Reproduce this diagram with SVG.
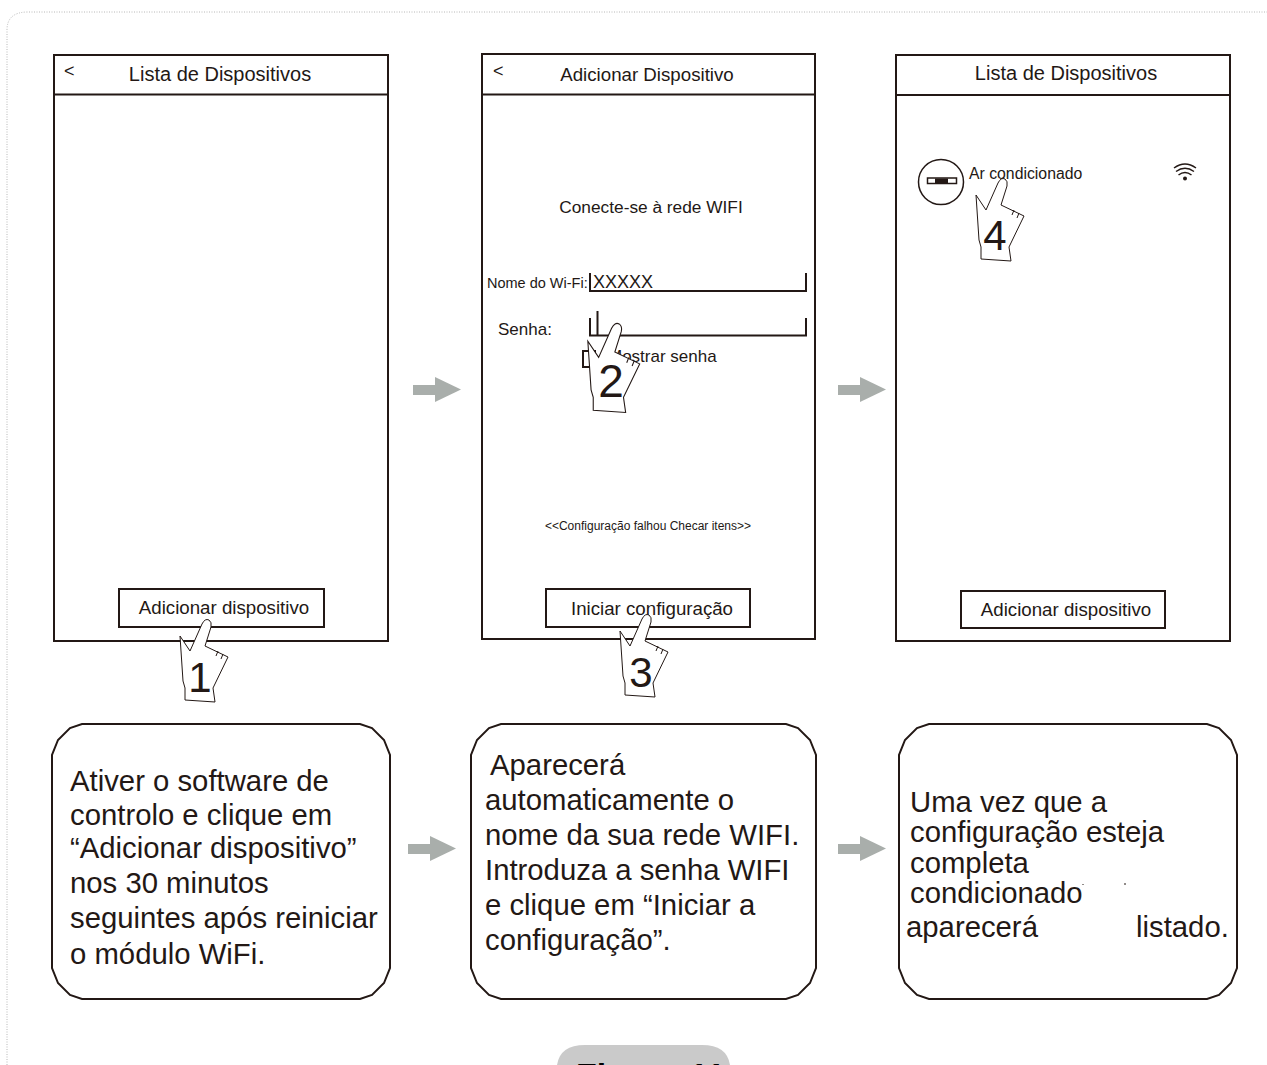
<svg xmlns="http://www.w3.org/2000/svg" width="1267" height="1065" viewBox="0 0 1267 1065">
<style>
text{font-family:"Liberation Sans",Arial,sans-serif;fill:#231815}
.s{fill:#fff;stroke:#231815;stroke-width:2}
.l{fill:none;stroke:#231815;stroke-width:2}
.b{font-size:29.300px}
.f{font-size:18.700px}
.h{fill:#fff;stroke:#231815;stroke-width:1}
.t{fill:none;stroke:#231815;stroke-width:1}
.n{font-size:42px;text-anchor:middle}
.a{fill:#a9aeab}
</style>
<defs>
<g id="hand"><path class="h" d="M-5,3 Q-2,-3 2,-1 Q5,1 4,6 L-2,25 L21,36 L6,67 L8,81 L-22,79 L-22,67 L-24,60 L-27,15 L-17,30 Z"/><path class="t" d="M11,30 L9,35 M16,33 L14,38"/></g>
<g id="arrow"><rect class="a" x="0" y="8" width="24" height="10"/><path class="a" d="M22,0 L48,12.500 L22,25 Z"/></g>
</defs>
<rect width="1267" height="1065" fill="#fff"/>
<path d="M7,1065 V30 Q7,12 28,12 H1267" fill="none" stroke="#b8b8b8" stroke-width="1" stroke-dasharray="1 1.500"/>
<path d="M557,1065 Q560,1045 585,1045 H702 Q727,1045 730,1065 Z" fill="#cacaca"/>
<g id="badge-text"><text x="576" y="1087" font-size="34" font-weight="700" style="fill:#000">Figura 11</text></g>

<g id="screen1">
<rect class="s" x="54" y="55" width="334" height="586"/><path class="l" d="M54,94.500 H388"/>
<text x="64" y="77" font-size="18">&lt;</text><text x="220" y="81" font-size="20" text-anchor="middle">Lista de Dispositivos</text>
<rect class="s" x="119" y="589" width="205" height="38"/><text x="224" y="614" class="f" text-anchor="middle">Adicionar dispositivo</text>
</g>
<g id="screen2">
<rect class="s" x="482" y="54" width="333" height="585"/><path class="l" d="M482,94.500 H815"/>
<text x="493" y="77" font-size="18">&lt;</text><text x="647" y="81" class="f" text-anchor="middle">Adicionar Dispositivo</text>
<text x="651" y="213" font-size="17.300" text-anchor="middle">Conecte-se à rede WIFI</text>
<text x="487" y="288" font-size="14.500">Nome do Wi-Fi:</text>
<path class="l" d="M590,273 V291 H806 V273"/><text x="593" y="288" font-size="18">XXXXX</text>
<text x="498" y="335" font-size="17">Senha:</text>
<path class="l" d="M590,318 V335.500 H806 V318 M597.500,311 V335"/>
<rect class="s" x="583" y="351" width="12" height="16"/>
<text x="608" y="362" font-size="17">Mostrar senha</text>
<text x="648" y="530" font-size="12" text-anchor="middle">&lt;&lt;Configuração falhou Checar itens&gt;&gt;</text>
<rect class="s" x="546" y="589" width="204" height="38"/><text x="652" y="615" class="f" text-anchor="middle">Iniciar configuração</text>
</g>
<g id="screen3">
<rect class="s" x="896" y="55" width="334" height="586"/><path class="l" d="M896,95 H1230"/>
<text x="1066" y="80" font-size="20" text-anchor="middle">Lista de Dispositivos</text>
<circle cx="941" cy="182" r="22.500" fill="#fff" stroke="#231815" stroke-width="1.500"/>
<rect x="927.500" y="178" width="29" height="5.500" fill="#fff" stroke="#231815" stroke-width="1.500"/><rect x="935" y="178.500" width="13" height="4.500" fill="#231815"/>
<text x="969" y="179" font-size="15.800">Ar condicionado</text>
<path fill="none" stroke="#231815" stroke-width="1.500" d="M1174,168 Q1185,160 1196,168 M1176,171.500 Q1185,165 1194,171.500 M1178.500,175 Q1185,170 1191.500,175"/><circle cx="1185" cy="178.500" r="2" fill="#231815"/>
<rect class="s" x="961" y="591" width="204" height="37"/><text x="1066" y="616" class="f" text-anchor="middle">Adicionar dispositivo</text>
</g>

<g id="hand1"><use href="#hand" transform="translate(207,621)"/><text class="n" x="200" y="692">1</text></g>
<g id="hand2"><use href="#hand" transform="translate(617,325) scale(1.08)"/><text class="n" style="font-size:46px" x="611" y="397">2</text></g>
<g id="hand3"><use href="#hand" transform="translate(647,616)"/><text class="n" x="641" y="687">3</text></g>
<g id="hand4"><use href="#hand" transform="translate(1003,180)"/><text class="n" x="995" y="250">4</text></g>

<g id="connectors">
<use href="#arrow" transform="translate(413,377)"/>
<use href="#arrow" transform="translate(838,377)"/>
<use href="#arrow" transform="translate(408,836)"/>
<use href="#arrow" transform="translate(838,836)"/>
</g>

<g id="box1">
<path class="s" d="M82,724 H360 L372,728 L384,740 L390,755 V968 L384,983 L372,995 L360,999 H82 L70,995 L58,983 L52,968 V755 L58,740 L70,728 Z"/>
<text class="b" x="70" y="791">Ativer o software de</text>
<text class="b" x="70" y="825">controlo e clique em</text>
<text class="b" x="70" y="858">“Adicionar dispositivo”</text>
<text class="b" x="70" y="893">nos 30 minutos</text>
<text class="b" x="70" y="928">seguintes após reiniciar</text>
<text class="b" x="70" y="964">o módulo WiFi.</text>
</g>
<g id="box2">
<path class="s" d="M501,724 H786 L798,728 L810,740 L816,755 V968 L810,983 L798,995 L786,999 H501 L489,995 L477,983 L471,968 V755 L477,740 L489,728 Z"/>
<text class="b" x="490" y="775">Aparecerá</text>
<text class="b" x="485" y="810">automaticamente o</text>
<text class="b" x="485" y="845">nome da sua rede WIFI.</text>
<text class="b" x="485" y="880">Introduza a senha WIFI</text>
<text class="b" x="485" y="915">e clique em “Iniciar a</text>
<text class="b" x="485" y="950">configuração”.</text>
</g>
<g id="box3">
<path class="s" d="M929,724 H1207 L1219,728 L1231,740 L1237,755 V968 L1231,983 L1219,995 L1207,999 H929 L917,995 L905,983 L899,968 V755 L905,740 L917,728 Z"/>
<text class="b" x="910" y="812">Uma vez que a</text>
<text class="b" x="910" y="842">configuração esteja</text>
<text class="b" x="910" y="873">completa</text>
<text class="b" x="910" y="903">condicionado</text>
<text class="b" x="906" y="937">aparecerá</text>
<text class="b" x="1136" y="937">listado.</text>
<path class="t" d="M1083,884 v1 M1125,883 v2"/>
</g>
</svg>
